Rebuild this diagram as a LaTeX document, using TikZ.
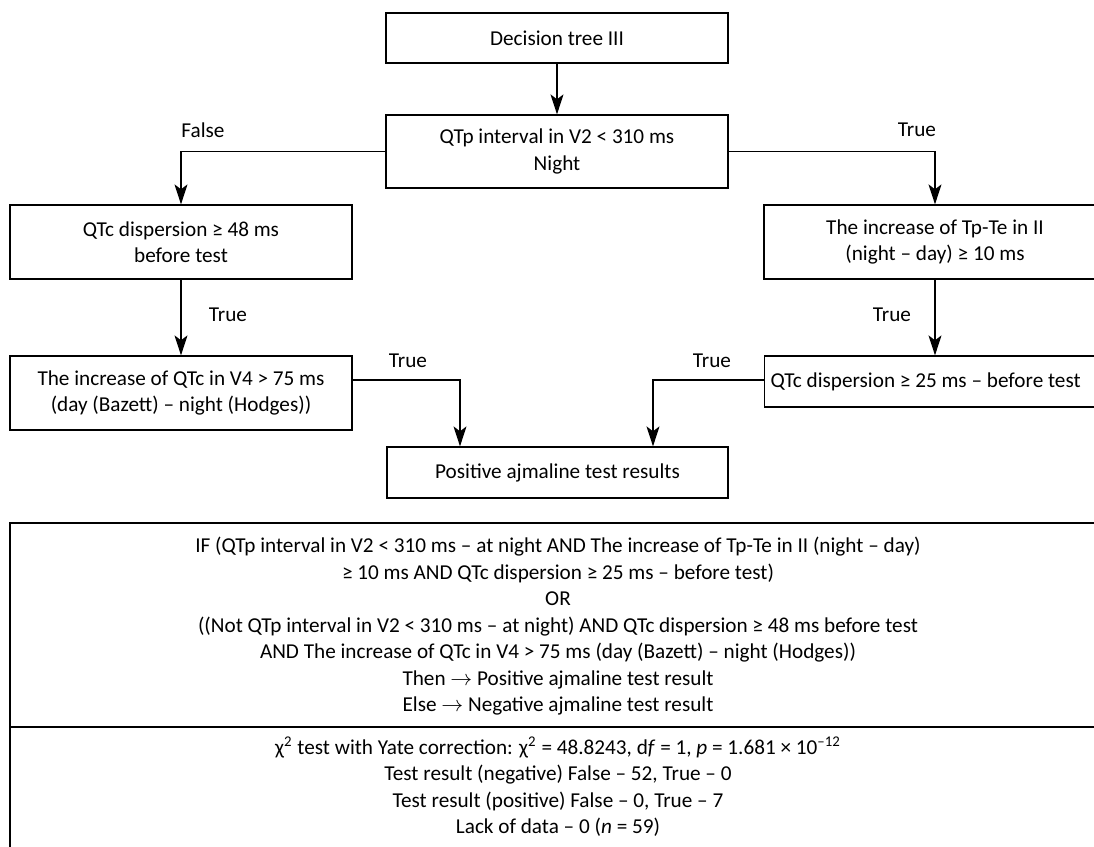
\documentclass[tikz,border=0pt]{standalone}
\usepackage{fontspec}
\setmainfont{Carlito}
\usetikzlibrary{arrows.meta,calc}
\begin{document}
\begin{tikzpicture}[x=0.5pt,y=-0.5pt,
  box/.style={draw,line width=0.65pt,align=center,inner sep=0pt,font=\fontsize{10.6}{13.25}\selectfont},
  lbl/.style={font=\fontsize{10.6}{13.25}\selectfont,inner sep=0pt},
  tbl/.style={align=center,inner sep=0pt,font=\fontsize{10.6}{13.25}\selectfont},
  conn/.style={line width=0.65pt,-{Stealth[length=10pt,width=6.5pt,inset=2.5pt]}}]
\clip (0,0) rectangle (1094,847);
\fill[white] (0,0) rectangle (1094,847);
% boxes
\node[box,minimum width=171pt,minimum height=25pt] (top) at (557,38) {Decision tree III};
\node[box,minimum width=171pt,minimum height=36.5pt] (q1) at (557,151.5) {QTp interval in V2 < 310 ms\\Night};
\node[box,minimum width=171pt,minimum height=37pt] (l1) at (181,242) {QTc dispersion ≥ 48 ms\\before test};
\node[box,minimum width=171pt,minimum height=37pt] (l2) at (181,393) {The increase of QTc in V4 > 75 ms\\(day (Bazett) – night (Hodges))};
\node[box,minimum width=171pt,minimum height=37pt] (r1) at (935,242) {The increase of Tp-Te in II\\(night – day) ≥ 10 ms};
\node[box,minimum height=25.5pt,anchor=west,inner xsep=3pt] (r2) at (764,381.5) {\makebox[190pt][l]{QTc dispersion ≥ 25 ms – before test}};
\node[box,minimum width=170.5pt,minimum height=25.5pt] (pos) at (557.5,472.5) {Positive ajmaline test results};
% connectors
\draw[conn] (top) -- (q1);
\draw[conn] (q1.west) -| (l1.north);
\draw[conn] (q1.east) -| (r1.north);
\draw[conn] (l1) -- (l2);
\draw[conn] (r1.south) -- (r1.south |- r2.north);
\coordinate (pl) at ($(pos.north)+(-97.5,0)$);
\coordinate (pr) at ($(pos.north)+(95.5,0)$);
\draw[conn] ($(l2.east)+(0,-13)$) -| (pl);
\draw[conn] ($(r2.west)+(0,-1.5)$) -| (pr);
% labels
\node[lbl] (f1) at (203,130) {False};
\node[lbl] (t1) at (917,130) {True};
\node[lbl] (t2) at (228,315) {True};
\node[lbl] (t3) at (892,315) {True};
\node[lbl] (t4) at (408,361) {True};
\node[lbl] (t5) at (712,361) {True};
% table
\draw[line width=0.65pt] (10,900) -- (10,523) -- (1106,523) -- (1106,900);
\draw[line width=0.65pt] (10,727) -- (1106,727);
\node[tbl] (rule) at (558,626.5) {IF (QTp interval in V2 < 310 ms – at night AND The increase of Tp-Te in II (night – day)\\
≥ 10 ms AND QTc dispersion ≥ 25 ms – before test)\\
OR\\
((Not QTp interval in V2 < 310 ms – at night) AND QTc dispersion ≥ 48 ms before test\\
AND The increase of QTc in V4 > 75 ms (day (Bazett) – night (Hodges))\\
Then $\rightarrow$ Positive ajmaline test result\\
Else $\rightarrow$ Negative ajmaline test result};
\node[tbl] (stat) at (558,786.5) {χ\textsuperscript{2} test with Yate correction: χ\textsuperscript{2} = 48.8243, d\textit{f} = 1, \textit{p} = 1.681 × 10\textsuperscript{–12}\\
Test result (negative) False – 52, True – 0\\
Test result (positive) False – 0, True – 7\\
Lack of data – 0 (\textit{n} = 59)};
\end{tikzpicture}
\end{document}
